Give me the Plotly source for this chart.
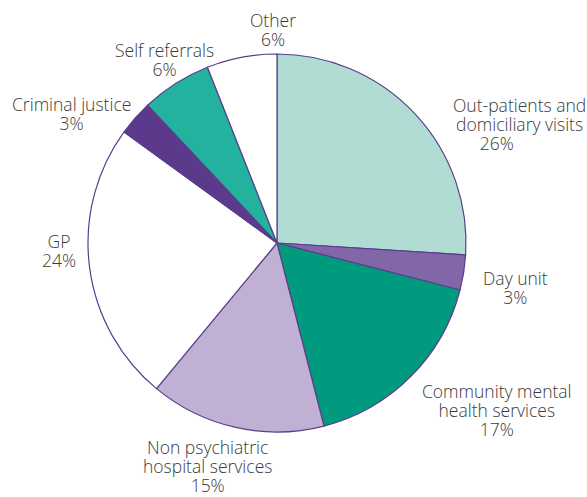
import plotly.graph_objects as go

# Referral sources, clockwise from 12 o'clock
categories = [
    "Out-patients and domiciliary visits",
    "Day unit",
    "Community mental health services",
    "Non psychiatric hospital services",
    "GP",
    "Criminal justice",
    "Self referrals",
    "Other",
]
shares = [26, 3, 17, 15, 24, 3, 6, 6]
colors = ["#b0dcd3", "#8166a8", "#009a7e", "#c0b0d3",
          "#ffffff", "#5b3a8c", "#22b29e", "#ffffff"]

# How each label is broken into lines
label_lines = [
    ["Out-patients and", "domiciliary visits"],
    ["Day unit"],
    ["Community mental", "health services"],
    ["Non psychiatric", "hospital services"],
    ["GP"],
    ["Criminal justice"],
    ["Self referrals"],
    ["Other"],
]

# Canvas and pie domain (square plot area) in pixels
W, H = 587, 497
ML, MR, MT, MB = 88, 121, 54, 65
PW, PH = W - ML - MR, H - MT - MB

# Label block centres in pixels, and extra trailing space after the percentage
block_x = [519, 515, 497, 207, 59, 71, 164, 273]
block_y = [124, 287, 410, 466, 250, 113.5, 59, 29]
pct_pad = [10, 0, 0, 0, 0, 0, 0, 0]

TEXT_PX = 17.5
LINE_GAP = 19
# plotly spaces <br> lines at 1.3 x the annotation font size
BASE_SIZE = LINE_GAP / 1.3


def span(s):
    return f"<span style='font-size:{TEXT_PX}px'>{s}</span>"


fig = go.Figure(go.Pie(
    values=shares,
    labels=categories,
    marker=dict(colors=colors, line=dict(color="#5a3d8c", width=1.2)),
    sort=False,
    direction="clockwise",
    rotation=0,
    textinfo="none",
    hoverinfo="label+percent",
    showlegend=False,
))

for lines, val, px, py, pad in zip(label_lines, shares, block_x, block_y, pct_pad):
    rows = lines + [f"{val}%" + "&nbsp;" * pad]
    fig.add_annotation(
        x=(px - ML) / PW, y=(H - MB - py) / PH,
        xref="paper", yref="paper",
        text="<br>".join(span(r) for r in rows),
        showarrow=False, align="center",
        xanchor="center", yanchor="middle",
        font=dict(family="'Open Sans', Lato, sans-serif", size=BASE_SIZE,
                  color="#3a3a3a", weight=300),
    )

fig.update_layout(
    width=W, height=H,
    margin=dict(l=ML, r=MR, t=MT, b=MB),
    paper_bgcolor="white", plot_bgcolor="white",
)

fig.write_html("out.html")
